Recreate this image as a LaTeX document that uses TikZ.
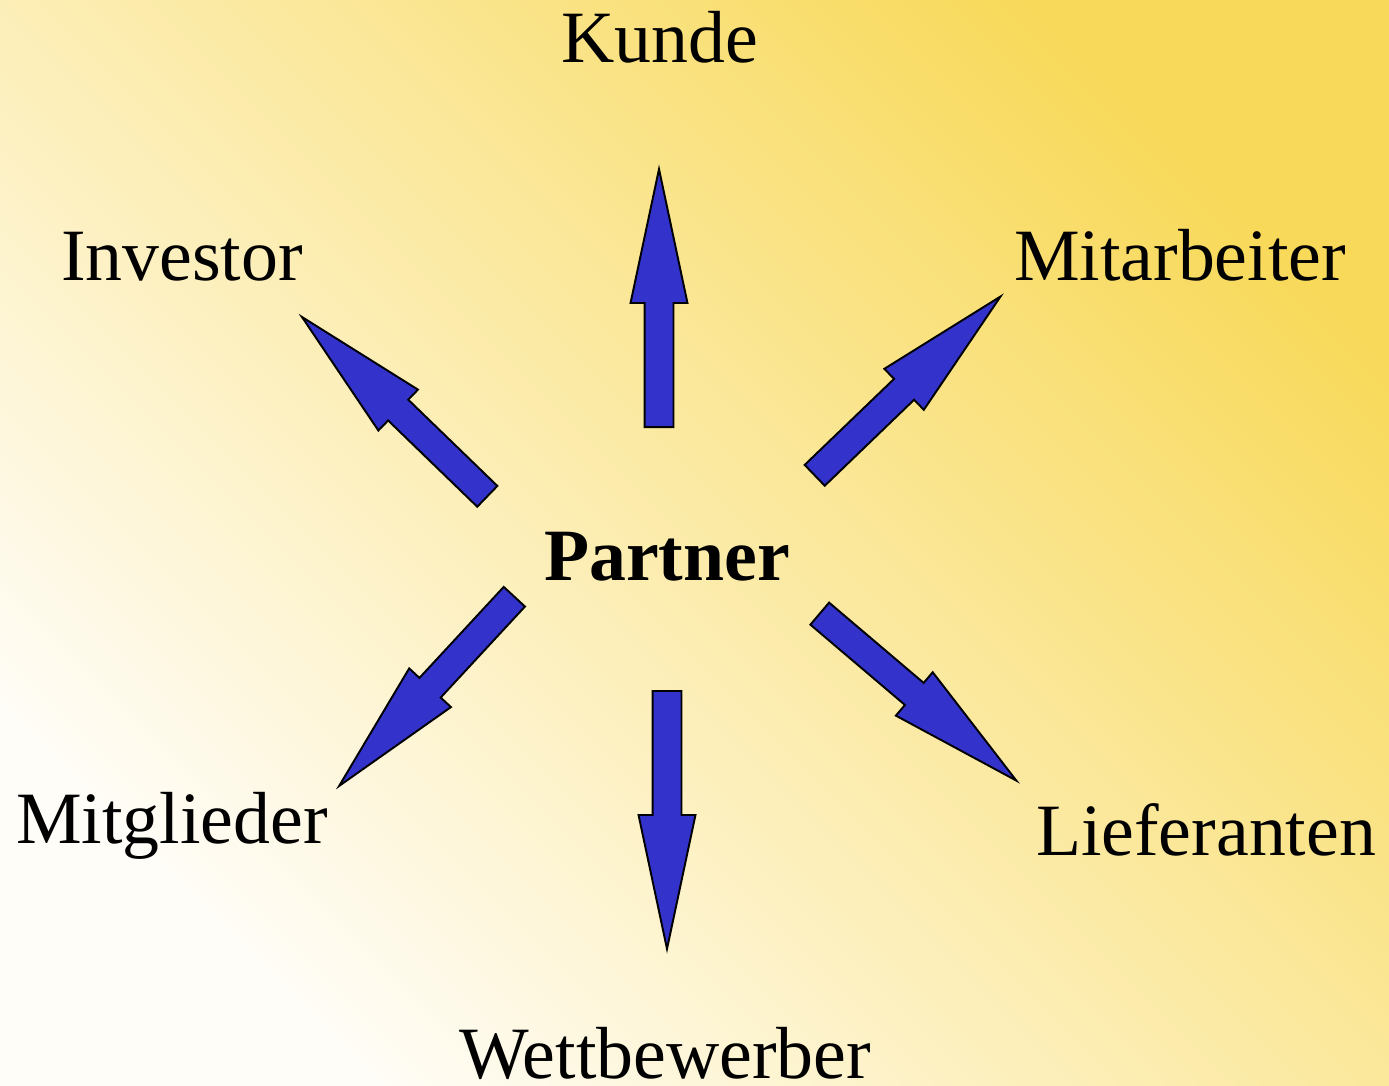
\documentclass[tikz,border=0pt]{standalone}
\usepackage{fontspec}
\setmainfont{Liberation Serif}
\usepackage{xcolor}
\usetikzlibrary{shapes.arrows, positioning, calc}

\definecolor{bgyellow}{HTML}{F8D95A}
\definecolor{bgcream}{HTML}{FFFDF8}
\definecolor{arrowblue}{HTML}{3333CC}

\tikzset{
    blockarrow/.style={single arrow, draw=black, line width=1.1pt, fill=arrowblue,
        minimum height=5.16cm, single arrow head extend=0.28cm,
        single arrow tip angle=24, inner sep=0pt, inner ysep=0.27cm,
        sloped, allow upside down, pos=0, anchor=tail},
    label/.style={font=\fontsize{42}{50}\selectfont, anchor=base, inner sep=0pt}
}

\begin{document}
\begin{tikzpicture}[x=0.02cm, y=-0.02cm]
    % Hintergrund
    \useasboundingbox (0,0) rectangle (1389,1085);
    \shade[left color=bgyellow, right color=bgcream, shading angle=-45] (0,0) rectangle (1389,1085);

    % Begriffe
    \node[label, font=\fontsize{42}{50}\selectfont\bfseries] (partner) at (667,580) {Partner};
    \node[label] (kunde) at (660,62) {Kunde};
    \node[label] (investor) at (182,280) {Investor};
    \node[label] (mitarbeiter) at (1180,280) {Mitarbeiter};
    \node[label] (mitglieder) at (172,843) {Mitglieder};
    \node[label] (lieferanten) at (1206,855) {Lieferanten};
    \node[label] (wettbewerber) at (665,1078) {Wettbewerber};

    % Pfeile
    \coordinate (kundeA) at (659,428);   \coordinate (kundeB) at (659,170);
    \coordinate (invA) at (488,497);     \coordinate (invB) at (302,317);
    \coordinate (mitA) at (814,476);     \coordinate (mitB) at (1000,297);
    \coordinate (mglA) at (515,596);     \coordinate (mglB) at (340,785);
    \coordinate (liefA) at (819,613);    \coordinate (liefB) at (1018,782);
    \coordinate (wettA) at (667,690);    \coordinate (wettB) at (667,947);

    \path (kundeA) -- (kundeB) node[blockarrow] (pk) {};
    \path (invA) -- (invB) node[blockarrow] (pi) {};
    \path (mitA) -- (mitB) node[blockarrow] (pm) {};
    \path (mglA) -- (mglB) node[blockarrow] (pg) {};
    \path (liefA) -- (liefB) node[blockarrow] (pl) {};
    \path (wettA) -- (wettB) node[blockarrow] (pw) {};
\end{tikzpicture}
\end{document}
